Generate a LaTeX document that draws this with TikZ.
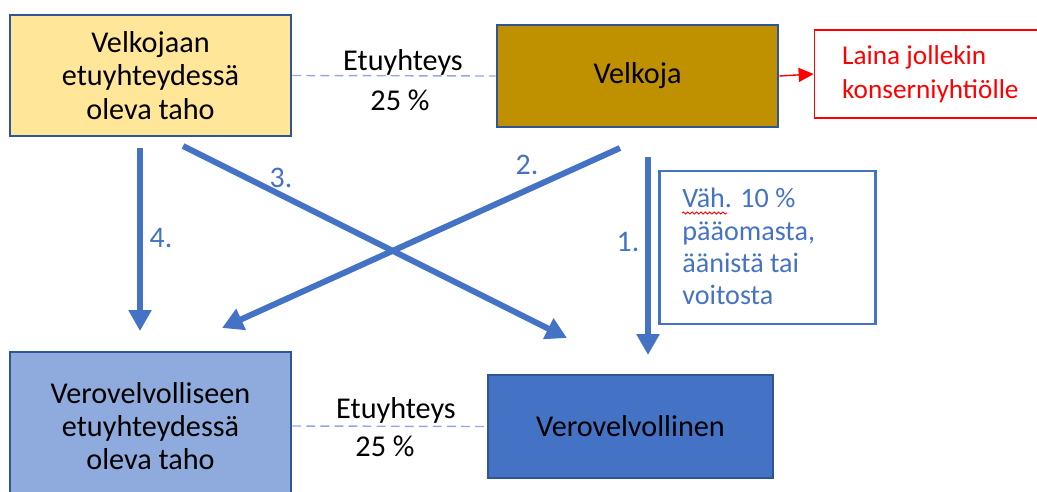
\documentclass[tikz,border=0pt]{standalone}
\usepackage{fontspec}
\setmainfont{Carlito}
\usetikzlibrary{arrows.meta,positioning,decorations.pathmorphing}
\definecolor{boxborder}{HTML}{2F5597}
\definecolor{flowblue}{HTML}{4472C4}
\definecolor{linkblue}{HTML}{8FAADC}
\definecolor{paleyellow}{HTML}{FFE699}
\definecolor{darkgold}{HTML}{BF9000}
\definecolor{loanred}{HTML}{FF0000}

\begin{document}
\begin{tikzpicture}[%
        x=0.02cm, y=-0.02cm,%
        font=\fontsize{17.2}{19}\selectfont%
    ]
        \tikzset{%
            party/.style={draw=boxborder, line width=1.6pt, align=center,%
                inner sep=0pt, minimum width=5.62cm},%
            link/.style={draw=linkblue, line width=0.8pt, dash pattern=on 5pt off 3pt},%
            flow/.style={draw=flowblue, line width=3.4pt,%
                -{Triangle[length=0.42cm, width=0.44cm]}},%
            num label/.style={text=flowblue, font=\fontsize{17}{19}\selectfont}%
        }%
        \useasboundingbox (0,0) rectangle (1037,491);%

        %
        % Osapuolet
        %
        % Ylarivi
        \node[party, fill=paleyellow, minimum height=2.42cm] (creditor party) at (150.5,75.5)%
            {Velkojaan\\etuyhteydessä\\oleva taho};%
        \node[party, fill=darkgold, minimum height=2.04cm] (creditor) at (637.5,76) {Velkoja};%
        \node[draw=loanred, line width=1pt, minimum width=4.7cm, minimum height=1.76cm] (loan box) at (932,74) {};%
        \node[text=loanred, align=left, anchor=west, font=\fontsize{15.5}{19.5}\selectfont]%
            (loan text) at (836,74) {Laina jollekin\\konserniyhtiölle};%

        % Alarivi
        \node[party, fill=linkblue, minimum height=2.96cm] (taxpayer party) at (150.5,426)%
            {Verovelvolliseen\\etuyhteydessä\\oleva taho};%
        \node[party, fill=flowblue, minimum width=5.7cm, minimum height=2.06cm] (taxpayer) at (630.5,426.5)%
            {Verovelvollinen};%

        %
        % Etuyhteydet
        %
        \draw[link] (creditor party.east) -- (creditor.west);%
        \node (top share) at (403,62) {Etuyhteys};%
        \node (top pct) at (400,100) {25 \%};%
        \draw[link] (taxpayer party.east) -- (taxpayer.west);%
        \node (bottom share) at (396,410) {Etuyhteys};%
        \node (bottom pct) at (385,446) {25 \%};%

        \draw[loanred, line width=0.8pt, -{Triangle[length=0.3cm, width=0.28cm]}]%
            (creditor.east) -- (loan box.west);%

        %
        % Rahoitusvirrat
        %
        \coordinate (one start) at (648,157);%
        \coordinate (one end) at (648,355);%
        \coordinate (two start) at (620,148);%
        \coordinate (two end) at (222,328);%
        \coordinate (three start) at (183,146);%
        \coordinate (three end) at (567,338);%
        \coordinate (four start) at (140,148);%
        \coordinate (four end) at (140,331);%
        \draw[flow] (one start) -- (one end);%
        \draw[flow] (two start) -- (two end);%
        \draw[flow] (three start) -- (three end);%
        \draw[flow] (four start) -- (four end);%
        \node[num label] (one label) at (628,242) {1.};%
        \node[num label] (two label) at (527,165) {2.};%
        \node[num label] (three label) at (281,178) {3.};%
        \node[num label] (four label) at (161,238) {4.};%

        % Ehto
        \node[draw=flowblue, line width=1.6pt, minimum width=4.32cm, minimum height=3.06cm]%
            (share box) at (767.5,247.5) {};%
        \node[text=flowblue, align=left, anchor=north west, inner sep=0pt,%
            font=\fontsize{16}{18.3}\selectfont] (share text) at (682,188)%
            {Väh. 10 \%\\pääomasta,\\äänistä tai\\voitosta};%
        \draw[loanred, line width=0.5pt, decorate,%
            decoration={snake, segment length=2.5pt, amplitude=0.6pt}]%
            (682,213) -- (727,213);%
    \end{tikzpicture}
\end{document}
